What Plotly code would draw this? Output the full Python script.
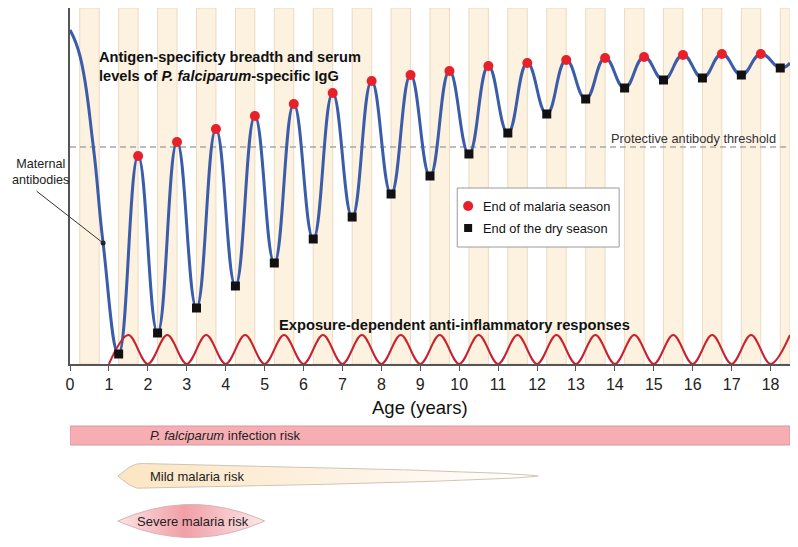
import numpy as np
import plotly.graph_objects as go

# ---------------- data ----------------
maternal_age = [0, 0.25, 0.6, 0.85]
maternal_level = [334, 309, 217, 121]

season_end_age = [1.75, 2.75, 3.75, 4.75, 5.75, 6.75, 7.75, 8.75, 9.75, 10.75,
                  11.75, 12.75, 13.75, 14.75, 15.75, 16.75, 17.75]
season_end_level = [208, 222, 235, 248, 260, 271, 283, 289, 293, 298,
                    301, 304, 306, 307, 309, 310, 310]

dry_end_age = [1.25, 2.25, 3.25, 4.25, 5.25, 6.25, 7.25, 8.25, 9.25, 10.25,
               11.25, 12.25, 13.25, 14.25, 15.25, 16.25, 17.25, 18.25]
dry_end_level = [10, 31, 56, 78, 101, 125, 147, 170, 188, 210,
                 231, 250, 265, 276, 284, 286, 289, 296]

curve_end_age = 18.5
curve_end_level = 301

threshold_level = 217

inflam_age = [1, 1.5, 2, 2.5, 3, 3.5, 4, 4.5, 5, 5.5, 6, 6.5, 7, 7.5, 8, 8.5, 9, 9.5,
              10, 10.5, 11, 11.5, 12, 12.5, 13, 13.5, 14, 14.5, 15, 15.5, 16, 16.5,
              17, 17.5, 18, 18.5]
inflam_level = [0, 29, 0, 29, 0, 29, 0, 29, 0, 29, 0, 29, 0, 29, 0, 29, 0, 29,
                0, 29, 0, 29, 0, 29, 0, 29, 0, 29, 0, 29, 0, 29, 0, 29, 0, 29]

season_start = [0.25] + dry_end_age
season_stop = [0.75] + season_end_age + [18.75]

age_ticks = list(range(0, 19))

risk_labels = ["<i>P. falciparum</i> infection risk", "Mild malaria risk", "Severe malaria risk"]
risk_start = [0, 1.23, 1.23]
risk_end = [18.5, 12.03, 5.0]

XMAX = 18.5
FONT = "Arial, Liberation Sans, sans-serif"
H = 539.0          # figure height (page has an 8px body margin)
SPLIT = 183 / H    # bottom of main panel (paper fraction)

fig = go.Figure()

# malaria-season bands
for s, e in zip(season_start, season_stop):
    fig.add_shape(type="rect", xref="x", yref="y domain", x0=s, x1=min(e, XMAX),
                  y0=0, y1=1, fillcolor="#FDF1DF",
                  line=dict(color="#EADBC3", width=1), layer="below")

# threshold
fig.add_shape(type="line", xref="x", yref="y", x0=0, x1=XMAX,
              y0=threshold_level, y1=threshold_level,
              line=dict(color="#A8A8A8", width=1.5, dash="6px,4px"), layer="below")

# legend box
fig.add_shape(type="rect", xref="x", yref="y", x0=9.95, x1=14.11, y0=117, y1=176,
              fillcolor="white", line=dict(color="#9A9A9A", width=1), layer="below")

# antibody curve
pts = sorted(zip(dry_end_age + season_end_age, dry_end_level + season_end_level))
cx = maternal_age + [p[0] for p in pts] + [curve_end_age]
cy = maternal_level + [p[1] for p in pts] + [curve_end_level]
fig.add_trace(go.Scatter(x=cx, y=cy, mode="lines",
                         line=dict(color="#3B5CA9", width=3, shape="spline", smoothing=1.3),
                         hoverinfo="skip", showlegend=False))

# anti-inflammatory curve
fig.add_trace(go.Scatter(x=inflam_age, y=inflam_level, mode="lines",
                         line=dict(color="#C8222E", width=2, shape="spline", smoothing=1.0),
                         hoverinfo="skip", showlegend=False))

# markers
fig.add_trace(go.Scatter(x=season_end_age, y=season_end_level, mode="markers",
                         marker=dict(color="#E8202A", size=10, symbol="circle"),
                         showlegend=False))
fig.add_trace(go.Scatter(x=dry_end_age, y=dry_end_level, mode="markers",
                         marker=dict(color="#111111", size=9, symbol="square"),
                         showlegend=False))
# maternal dot
fig.add_trace(go.Scatter(x=[maternal_age[3]], y=[maternal_level[3]], mode="markers",
                         marker=dict(color="#222222", size=5), showlegend=False))

# manual legend markers
fig.add_trace(go.Scatter(x=[10.23], y=[158], mode="markers",
                         marker=dict(color="#E8202A", size=10), showlegend=False))
fig.add_trace(go.Scatter(x=[10.23], y=[136], mode="markers",
                         marker=dict(color="#111111", size=8, symbol="square"),
                         showlegend=False))

# ---- risk bars (lower panel, y2) ----
fig.add_shape(type="rect", xref="x", yref="y2", x0=risk_start[0], x1=risk_end[0],
              y0=102, y1=121, fillcolor="#F7AEB3", line=dict(color="#D8989D", width=1))

# mild lens
u = np.linspace(0, 1, 300)
um = 0.055
f = np.where(u < um, np.sin(np.pi / 2 * np.clip(u / um, 0, 1)),
             np.clip((1 - u) / (1 - um), 0, 1) ** 0.65)
mx = risk_start[1] + u * (risk_end[1] - risk_start[1])
mc, mh = 71, 12.5
fig.add_trace(go.Scatter(x=np.concatenate([mx, mx[::-1]]),
                         y=np.concatenate([mc + mh * f, (mc - mh * f)[::-1]]),
                         xaxis="x", yaxis="y2", mode="lines", fill="toself",
                         fillgradient=dict(type="horizontal",
                                           colorscale=[[0, "#FCE5C2"], [0.45, "#FDF0DD"], [1, "#FFFFFF"]]),
                         line=dict(color="#CEC5B6", width=1), hoverinfo="skip", showlegend=False))

# severe lens
g = 4 * u * (1 - u)
sx = risk_start[2] + u * (risk_end[2] - risk_start[2])
sc, sh = 26, 16.5
fig.add_trace(go.Scatter(x=np.concatenate([sx, sx[::-1]]),
                         y=np.concatenate([sc + sh * g, (sc - sh * g)[::-1]]),
                         xaxis="x", yaxis="y2", mode="lines", fill="toself",
                         fillgradient=dict(type="horizontal",
                                           colorscale=[[0, "#FCE4E6"], [0.45, "#F19FA6"], [1, "#FBE8EA"]]),
                         line=dict(color="#D8B2B5", width=1), hoverinfo="skip", showlegend=False))

ann = []
ann.append(dict(x=0.69, y=297.5, xref="x", yref="y", xanchor="left", yanchor="middle", align="left",
                text="<b>Antigen-specificty breadth and serum<br>levels of <i>P. falciparum</i>-specific IgG</b>",
                font=dict(size=14.6, color="#111111"), showarrow=False))
ann.append(dict(x=9.87, y=39, xref="x", yref="y", xanchor="center", yanchor="middle",
                text="<b>Exposure-dependent anti-inflammatory responses</b>",
                font=dict(size=14.7, color="#111111"), showarrow=False))
ann.append(dict(x=18.2, y=226, xref="x", yref="y", xanchor="right", yanchor="middle",
                text="Protective antibody threshold", font=dict(size=12.8, color="#333333"),
                showarrow=False))
ann.append(dict(x=(10 - 70) / 720, y=(547 - 171.5) / H, xref="paper", yref="paper", xanchor="left",
                yanchor="middle", align="center", text="Maternal<br>antibodies",
                font=dict(size=12.6, color="#222222"), showarrow=False))
ann.append(dict(x=maternal_age[3], y=maternal_level[3], xref="x", yref="y", text="",
                showarrow=True, arrowhead=0, arrowwidth=1, arrowcolor="#333333",
                ax=-68, ay=-53, standoff=0))
ann.append(dict(x=9.0, y=(547 - 407) / H, xref="x", yref="paper", xanchor="center", yanchor="middle",
                text="Age (years)", font=dict(size=18.5, color="#111111"), showarrow=False))
ann.append(dict(x=10.57, y=158, xref="x", yref="y", xanchor="left", yanchor="middle",
                text="End of malaria season", font=dict(size=12.8, color="#111111"), showarrow=False))
ann.append(dict(x=10.57, y=136, xref="x", yref="y", xanchor="left", yanchor="middle",
                text="End of the dry season", font=dict(size=12.8, color="#111111"), showarrow=False))
ann.append(dict(x=2.0, y=111.5, xref="x", yref="y2", xanchor="left", yanchor="middle",
                text=risk_labels[0], font=dict(size=13, color="#222222"), showarrow=False))
ann.append(dict(x=2.0, y=71, xref="x", yref="y2", xanchor="left", yanchor="middle",
                text=risk_labels[1], font=dict(size=13, color="#222222"), showarrow=False))
ann.append(dict(x=1.67, y=26, xref="x", yref="y2", xanchor="left", yanchor="middle",
                text=risk_labels[2], font=dict(size=13, color="#222222"), showarrow=False))

fig.update_layout(
    width=790, height=int(H),
    margin=dict(l=62, r=8, t=0, b=0),
    paper_bgcolor="white", plot_bgcolor="white",
    font=dict(family=FONT),
    showlegend=False,
    xaxis=dict(domain=[0, 1], range=[0, XMAX], anchor="y", showline=True, linecolor="#555555",
               linewidth=1.5, ticks="outside", ticklen=5, tickcolor="#555555", tickwidth=1.2,
               tickvals=age_ticks, tickfont=dict(size=16, color="#222222"),
               showgrid=False, zeroline=False),
    yaxis=dict(domain=[SPLIT, 1], range=[0, 356], showline=True, linecolor="#555555",
               linewidth=1.5, showticklabels=False, ticks="", showgrid=False, zeroline=False),
    yaxis2=dict(domain=[0, SPLIT], range=[0, 183], anchor="x", visible=False),
    annotations=ann,
)

fig.write_html("out.html")
